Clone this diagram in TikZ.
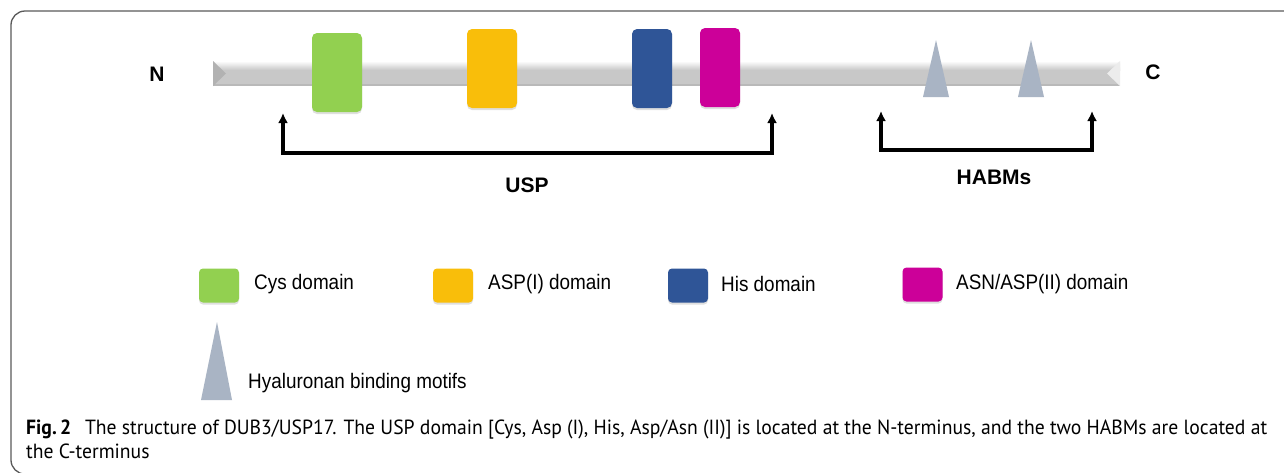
\documentclass[tikz,border=0pt]{standalone}
\usepackage{fontspec}
\setmainfont{Liberation Sans}
\newfontfamily\capfont{PT Sans}
\usetikzlibrary{arrows.meta,shadows}
\definecolor{cgreen}{HTML}{92D050}
\definecolor{corange}{HTML}{F9BE0A}
\definecolor{cblue}{HTML}{2F5597}
\definecolor{cmag}{HTML}{CC0099}
\definecolor{ctri}{HTML}{A9B4C4}
\definecolor{cbar}{HTML}{C8C8C8}
\definecolor{cframe}{HTML}{5A5A5A}
\newcommand{\narrowtxt}[1]{\scalebox{0.9}[1]{#1}}
\newsavebox{\capboxa}
\newcommand{\captxta}{\capfont\fontsize{20.5}{25}\selectfont\textbf{Fig.\,2}\hspace{0.7em}The structure of DUB3/USP17. The USP domain [Cys, Asp (I), His, Asp/Asn (II)] is located at the N-terminus, and the two HABMs are located at}
\tikzset{
  dom/.style={rounded corners=5pt, draw=none, inner sep=0pt,
    drop shadow={shadow xshift=0pt, shadow yshift=-2pt, opacity=0.25}},
  legbox/.style={rounded corners=4pt, draw=none, inner sep=0pt, minimum width=40pt, minimum height=34pt,
    drop shadow={shadow xshift=0pt, shadow yshift=-2pt, opacity=0.25}},
  term/.style={font=\bfseries\fontsize{21}{24}\selectfont, inner sep=0pt},
  lbl/.style={font=\bfseries\fontsize{21}{24}\selectfont, inner sep=0pt},
  legtxt/.style={font=\fontsize{21}{24}\selectfont, anchor=west, inner sep=0pt},
  motif/.style={fill=ctri, draw=none},
  brk/.style={line width=3.2pt, {Latex[length=10pt,width=10pt]}-{Latex[length=10pt,width=10pt]}},
}
\begin{document}
\sbox{\capboxa}{\captxta}%
\edef\capsx{\fpeval{1241/(\the\wd\capboxa)}}%
\begin{tikzpicture}[x=1pt,y=-1pt]
\useasboundingbox (0,0) rectangle (1284,472);
\fill[white] (0,0) rectangle (1284,472);
% frame
\draw[cframe, line width=1.3pt, rounded corners=14pt] (26,474) -- (11,474) -- (11,11) -- (1290,11);
% bar
\fill[cbar] (213,61) rectangle (1120,86);
\shade[top color=white, bottom color=cbar] (213,61) rectangle (1120,70);
\fill[gray!55] (213,84) rectangle (1120,86);
\fill[gray!60] (213,61) -- (226,73.5) -- (213,86) -- cycle;
\fill[gray!15] (1120,61) -- (1107,73.5) -- (1120,86) -- cycle;
\node[term] (N) at (157,74) {N};
\node[term] (C) at (1153,72) {C};
% domains
\node[dom, fill=cgreen, minimum width=50pt, minimum height=79pt] (cys) at (337,72.5) {};
\node[dom, fill=corange, minimum width=50pt, minimum height=79pt] (asp) at (492,68.5) {};
\node[dom, fill=cblue, minimum width=40pt, minimum height=79pt] (his) at (652,68.5) {};
\node[dom, fill=cmag, minimum width=40pt, minimum height=79pt] (asn) at (720,67.5) {};
% motifs
\fill[motif] (936,40) -- (949,97) -- (923,97) -- cycle;
\fill[motif] (1031,40) -- (1044,97) -- (1018,97) -- cycle;
% brackets
\coordinate (uL) at (283,113);
\coordinate (uR) at (772,113);
\coordinate (hL) at (881,111);
\coordinate (hR) at (1092,111);
\draw[brk] (uL) -- (283,153) -- (772,153) -- (uR);
\draw[brk] (hL) -- (881,150) -- (1092,150) -- (hR);
\node[lbl] (usp) at (527,185) {USP};
\node[lbl] (habm) at (994,177) {HABMs};
% legend
\node[legbox, fill=cgreen] (l1) at (219,285.5) {};
\node[legtxt] (t1) at (254,284) {\narrowtxt{Cys domain}};
\node[legbox, fill=corange] (l2) at (453,285.5) {};
\node[legtxt] (t2) at (488,284) {\narrowtxt{ASP(I) domain}};
\node[legbox, fill=cblue] (l3) at (688,285.5) {};
\node[legtxt] (t3) at (721,284) {\narrowtxt{His domain}};
\node[legbox, fill=cmag] (l4) at (922.5,284.5) {};
\node[legtxt] (t4) at (956,284) {\narrowtxt{ASN/ASP(II) domain}};
\fill[motif] (217,322) -- (232,400) -- (201,400) -- cycle;
\node[legtxt] (t5) at (248,383) {\narrowtxt{Hyaluronan binding motifs}};
% caption
\node[anchor=base west, inner sep=0pt] (cap1) at (26,434) {\scalebox{\capsx}[1]{\usebox{\capboxa}}};
\node[anchor=base west, inner sep=0pt] (cap2) at (26,458) {\scalebox{\capsx}[1]{\capfont\fontsize{20.5}{25}\selectfont the C-terminus}};
\end{tikzpicture}
\end{document}
